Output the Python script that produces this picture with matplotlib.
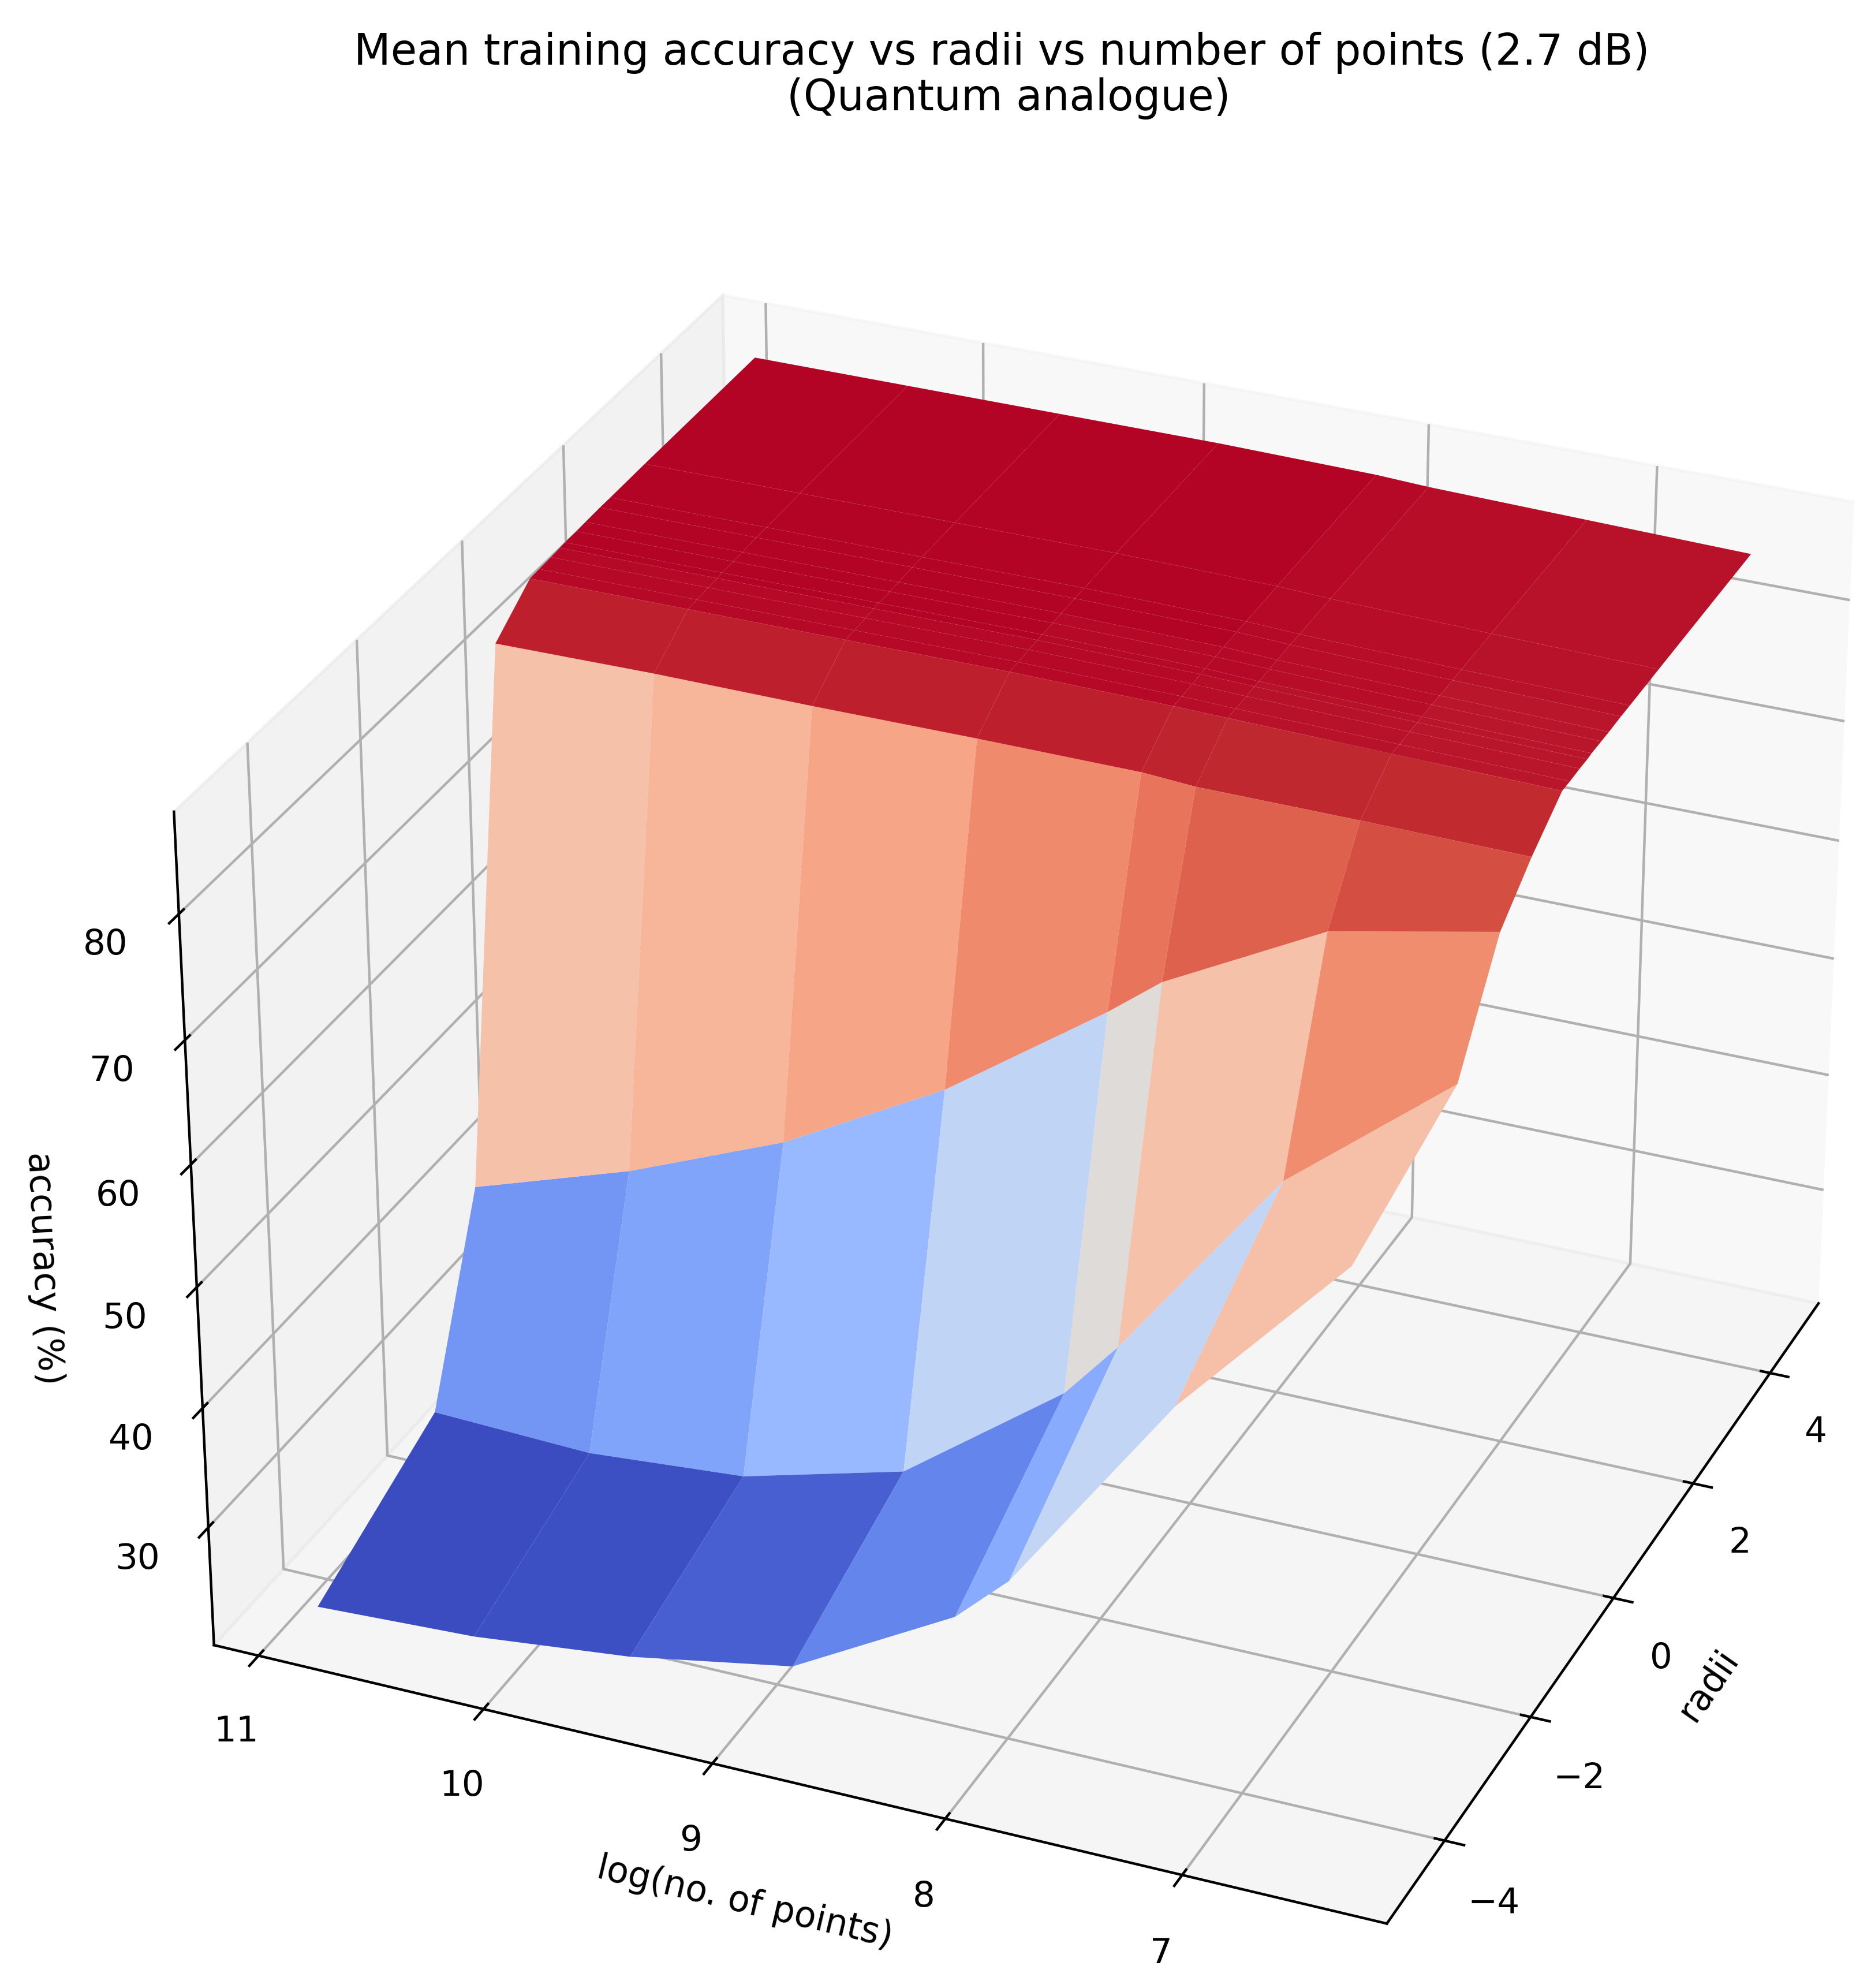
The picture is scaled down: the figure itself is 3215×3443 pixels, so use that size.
import matplotlib
matplotlib.use('Agg')
import matplotlib.pyplot as plt
import numpy as np
from matplotlib import cm

# log(no. of points), left to right in the picture
log_points = [10.9, 10.2, 9.51, 8.8, 8.1, 7.87, 7.18, 6.47]

# radii rows, front to back
radii = [-4.6, -2.3, -1.39, -0.69, 0.0, 0.18, 0.41, 0.59, 0.69, 0.92, 1.1, 1.39, 1.6, 2.3, 4.6]

# mean training accuracy, one row per radius
row_00 = [21.1, 21.7, 23.1, 25.5, 32.8, 36.8, 54, 68.1]
row_01 = [26.5, 26, 27, 30.5, 40.1, 44.9, 61.3, 71.9]
row_02 = [41.5, 45.7, 50.9, 58.1, 67.2, 70.5, 77.2, 79.9]
row_03 = [83.5, 83.6, 83.5, 83.5, 83.4, 83.1, 83, 82.8]
row_04 = [86, 86, 86, 86, 85.8, 85.7, 85.4, 85.1]
row_05 = [86.05, 86.05, 86.05, 86.05, 85.85, 85.7, 85.4, 85.1]
row_06 = [86.1, 86.1, 86.1, 86.1, 85.9, 85.75, 85.45, 85.15]
row_07 = [86.15, 86.15, 86.15, 86.15, 85.95, 85.8, 85.45, 85.15]
row_08 = [86.2, 86.2, 86.2, 86.2, 86, 85.8, 85.5, 85.2]
row_09 = [86.2, 86.2, 86.2, 86.2, 86, 85.85, 85.5, 85.2]
row_10 = [86.25, 86.25, 86.25, 86.25, 86.05, 85.85, 85.5, 85.2]
row_11 = [86.3, 86.3, 86.3, 86.3, 86.1, 85.9, 85.55, 85.25]
row_12 = [86.3, 86.3, 86.3, 86.3, 86.1, 85.9, 85.55, 85.25]
row_13 = [86.35, 86.35, 86.35, 86.35, 86.15, 85.95, 85.6, 85.3]
row_14 = [86.4, 86.4, 86.4, 86.4, 86.2, 86, 85.7, 85.4]

accuracy = [row_00, row_01, row_02, row_03, row_04, row_05, row_06, row_07,
            row_08, row_09, row_10, row_11, row_12, row_13, row_14]

title = 'Mean training accuracy vs radii vs number of points (2.7 dB) \n(Quantum analogue)'

fig = plt.figure(figsize=(8.04, 8.6075), dpi=400)
ax = fig.add_axes([0.046, -0.051, 1.0, 1.0], projection='3d')

X, Y = np.meshgrid(radii, log_points, indexing='ij')
Z = np.array(accuracy)
ax.plot_surface(X, Y, Z, rstride=1, cstride=1, cmap=cm.coolwarm, linewidth=0)

ax.set_xlim(-5.3, 5.3)
ax.set_ylim(6.15, 11.2)
ax.set_zlim(20, 88)
ax.set_xticks([-4, -2, 0, 2, 4])
ax.set_yticks([7, 8, 9, 10, 11])
ax.set_zticks([30, 40, 50, 60, 70, 80])
ax.tick_params(axis='both', labelsize=11, pad=4.5)
ax.tick_params(axis='z', labelsize=11, pad=4.5)
ax.set_xlabel('radii', fontsize=11.1, labelpad=4)
ax.set_ylabel('log(no. of points)', fontsize=11.1, labelpad=4)
ax.set_zlabel('accuracy (%)', fontsize=11.1, labelpad=5)
ax.view_init(elev=29.5, azim=-157)
ax.set_box_aspect(None, zoom=1.047)

fig.suptitle(title, x=0.5433, y=0.984, fontsize=13.3, linespacing=1.1)

fig.savefig('out.png', dpi=400)
